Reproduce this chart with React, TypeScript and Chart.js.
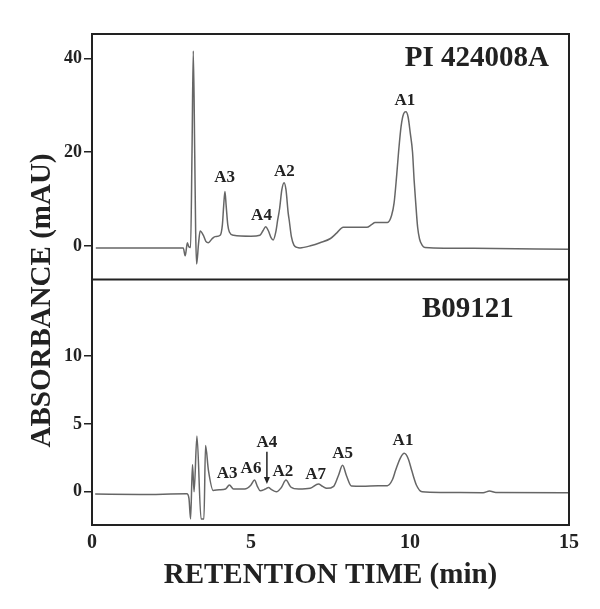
import { useEffect, useRef } from "react";
import { Chart, registerables } from "chart.js";
Chart.register(...registerables);

// Top panel (PI 424008A): retention time (min) / absorbance (mAU)
const topTime = [0.12, 1.5, 2.87, 2.93, 3.0, 3.04, 3.1, 3.145, 3.185, 3.23, 3.26, 3.29, 3.35, 3.4, 3.5, 3.58, 3.66, 3.77, 3.87, 4.03, 4.1, 4.14, 4.18, 4.22, 4.27, 4.32, 4.45, 5.0, 5.28, 5.38, 5.46, 5.55, 5.63, 5.7, 5.78, 5.84, 5.9, 5.97, 6.04, 6.1, 6.17, 6.2, 6.27, 6.35, 6.45, 6.54, 6.9, 7.17, 7.5, 7.7, 7.9, 8.3, 8.64, 8.8, 8.9, 9.29, 9.42, 9.5, 9.58, 9.64, 9.72, 9.8, 9.87, 9.94, 10.01, 10.08, 10.13, 10.18, 10.24, 10.3, 10.38, 10.47, 12.0, 15.0];
const topAbs = [-0.4, -0.4, -0.4, -2.1, 0.7, -0.1, -0.3, 20, 41.6, 20, 3, -3.85, 0.5, 3.2, 2.3, 1.0, 0.7, 1.5, 2.0, 2.3, 4.5, 8.5, 11.6, 8.5, 4.5, 3.0, 2.3, 2.1, 2.3, 3.3, 4.1, 3.2, 1.8, 1.3, 3.0, 5.6, 8.0, 12.0, 13.5, 12.0, 7.0, 5.6, 2.0, 0.2, -0.3, -0.4, 0.1, 0.7, 1.6, 2.8, 4.0, 4.0, 4.0, 4.6, 5.0, 5.0, 6.5, 9.2, 15, 20, 25.5, 28.2, 28.6, 27.5, 24, 20, 14, 9.2, 4, 1.5, 0.2, -0.3, -0.5, -0.7];

// Bottom panel (B09121)
const botTime = [0.1, 1.5, 2.98, 3.05, 3.1, 3.16, 3.21, 3.3, 3.43, 3.52, 3.57, 3.66, 3.81, 4.0, 4.2, 4.32, 4.45, 4.8, 5.0, 5.11, 5.2, 5.29, 5.45, 5.55, 5.65, 5.8, 5.95, 6.1, 6.25, 6.5, 6.86, 7.12, 7.25, 7.38, 7.6, 7.75, 7.88, 8.0, 8.16, 8.5, 9.0, 9.29, 9.45, 9.55, 9.7, 9.82, 9.95, 10.05, 10.2, 10.38, 11.0, 12.3, 12.5, 12.7, 14.97];
const botAbs = [-0.17, -0.2, -0.15, -0.5, -2.0, 2.0, 0.0, 4.1, -2.0, -2.0, 3.4, 1.6, 0.1, 0.15, 0.2, 0.5, 0.2, 0.2, 0.5, 0.86, 0.4, 0.07, 0.2, 0.32, 0.15, 0.0, 0.3, 0.86, 0.35, 0.2, 0.25, 0.57, 0.4, 0.25, 0.4, 1.2, 1.95, 1.2, 0.42, 0.4, 0.45, 0.45, 0.9, 1.6, 2.5, 2.83, 2.4, 1.6, 0.5, 0.0, -0.05, -0.07, 0.05, -0.05, -0.07];

const xTicks = [0, 5, 10, 15];
const topTicks = [0, 20, 40];
const botTicks = [0, 5, 10];

const topPeakNames = ["A3", "A4", "A2", "A1"];
const topPeakX = [4.17, 5.33, 6.05, 9.84];
const topPeakY = [14.5, 6.4, 15.8, 31.0];

const botPeakNames = ["A3", "A6", "A4", "A2", "A7", "A5", "A1"];
const botPeakX = [4.25, 5.0, 5.5, 6.0, 7.03, 7.88, 9.78];
const botPeakY = [1.3, 1.67, 3.63, 1.47, 1.23, 2.78, 3.74];

const arrowX = 5.5;
const arrowFrom = 2.95;
const arrowTo = 0.57;

const topSample = "PI 424008A";
const topSampleX = 14.37;
const topSampleY = 40.0;
const botSample = "B09121";
const botSampleX = 11.82;
const botSampleY = 13.4;

const yTitle = "ABSORBANCE (mAU)";
const xTitle = "RETENTION TIME (min)";

const SERIF = "'Liberation Serif', 'Times New Roman', serif";
const INK = "#222";

const decor = {
  id: "decor",
  afterDatasetsDraw(chart: any) {
    const { ctx, chartArea } = chart;
    const x = chart.scales.x;
    const yt = chart.scales.yTop;
    const yb = chart.scales.yBot;
    ctx.save();
    // frame & divider
    ctx.strokeStyle = INK;
    ctx.lineWidth = 2;
    ctx.strokeRect(chartArea.left, chartArea.top, chartArea.right - chartArea.left, chartArea.bottom - chartArea.top);
    ctx.beginPath();
    ctx.moveTo(chartArea.left, yt.bottom);
    ctx.lineTo(chartArea.right, yt.bottom);
    ctx.stroke();

    ctx.fillStyle = INK;
    // y title
    ctx.save();
    ctx.translate(43, (chartArea.top + chartArea.bottom) / 2 + 21);
    ctx.rotate(-Math.PI / 2);
    ctx.font = `bold 29px ${SERIF}`;
    ctx.textAlign = "center";
    ctx.textBaseline = "middle";
    ctx.fillText(yTitle, 0, 0);
    ctx.restore();

    // sample names
    ctx.font = `bold 29px ${SERIF}`;
    ctx.textBaseline = "middle";
    ctx.textAlign = "right";
    ctx.fillText(topSample, x.getPixelForValue(topSampleX), yt.getPixelForValue(topSampleY));
    ctx.textAlign = "center";
    ctx.fillText(botSample, x.getPixelForValue(botSampleX), yb.getPixelForValue(botSampleY));

    // peak labels
    ctx.font = `bold 17px ${SERIF}`;
    ctx.textAlign = "center";
    topPeakNames.forEach((n, i) => {
      ctx.fillText(n, x.getPixelForValue(topPeakX[i]), yt.getPixelForValue(topPeakY[i]));
    });
    botPeakNames.forEach((n, i) => {
      ctx.fillText(n, x.getPixelForValue(botPeakX[i]), yb.getPixelForValue(botPeakY[i]));
    });

    // arrow
    const ax = x.getPixelForValue(arrowX);
    const a1 = yb.getPixelForValue(arrowFrom);
    const a2 = yb.getPixelForValue(arrowTo);
    ctx.lineWidth = 1.5;
    ctx.beginPath();
    ctx.moveTo(ax, a1);
    ctx.lineTo(ax, a2 - 4);
    ctx.stroke();
    ctx.beginPath();
    ctx.moveTo(ax, a2);
    ctx.lineTo(ax - 3, a2 - 7);
    ctx.lineTo(ax + 3, a2 - 7);
    ctx.closePath();
    ctx.fill();
    ctx.restore();
  },
};

export default function App() {
  const ref = useRef<HTMLCanvasElement | null>(null);
  useEffect(() => {
    if (!ref.current) return;
    const tickFontY = { family: SERIF, size: 18, weight: "bold" as const };
    const yGrid = { display: true, drawOnChartArea: false, drawTicks: true, tickLength: 8, color: INK, lineWidth: 1.5 };
    const chart = new Chart(ref.current, {
      type: "line",
      data: {
        datasets: [
          {
            data: botTime.map((t, i) => ({ x: t, y: botAbs[i] })),
            yAxisID: "yBot",
            borderColor: "#666",
            borderWidth: 1.5,
            pointRadius: 0,
            cubicInterpolationMode: "monotone",
            fill: false,
          },
          {
            data: topTime.map((t, i) => ({ x: t, y: topAbs[i] })),
            yAxisID: "yTop",
            borderColor: "#666",
            borderWidth: 1.5,
            pointRadius: 0,
            cubicInterpolationMode: "monotone",
            fill: false,
          },
        ],
      },
      options: {
        animation: false,
        responsive: true,
        maintainAspectRatio: false,
        layout: { padding: { left: 0, right: 31, top: 34, bottom: 0 } },
        plugins: { legend: { display: false }, tooltip: { enabled: false } },
        scales: {
          x: {
            type: "linear",
            min: 0,
            max: 15,
            afterFit: (s: any) => { s.height = 84; },
            afterBuildTicks: (s: any) => { s.ticks = xTicks.map((v) => ({ value: v })); },
            grid: { display: true, drawOnChartArea: false, drawTicks: false },
            border: { display: false },
            ticks: { color: INK, padding: 6, font: { family: SERIF, size: 20, weight: "bold" }, maxRotation: 0 },
            title: { display: true, text: xTitle, color: INK, font: { family: SERIF, size: 29, weight: "bold" }, padding: { top: 0, bottom: 16 } },
          },
          yBot: {
            type: "linear",
            position: "left",
            stack: "panels",
            stackWeight: 1,
            min: -2.45,
            max: 15.64,
            afterFit: (s: any) => { s.width = 92; },
            afterBuildTicks: (s: any) => { s.ticks = botTicks.map((v) => ({ value: v })); },
            grid: yGrid,
            border: { display: false },
            ticks: { color: INK, padding: 2, font: tickFontY },
          },
          yTop: {
            type: "linear",
            position: "left",
            stack: "panels",
            stackWeight: 1,
            min: -7.14,
            max: 45.2,
            afterFit: (s: any) => { s.width = 92; },
            afterBuildTicks: (s: any) => { s.ticks = topTicks.map((v) => ({ value: v })); },
            grid: yGrid,
            border: { display: false },
            ticks: { color: INK, padding: 2, font: tickFontY },
          },
        },
      } as any,
      plugins: [decor],
    });
    return () => chart.destroy();
  }, []);
  return (
    <div style={{ position: "fixed", left: 0, top: 0, width: 600, height: 609, background: "#fff" }}>
      <canvas ref={ref} />
    </div>
  );
}
